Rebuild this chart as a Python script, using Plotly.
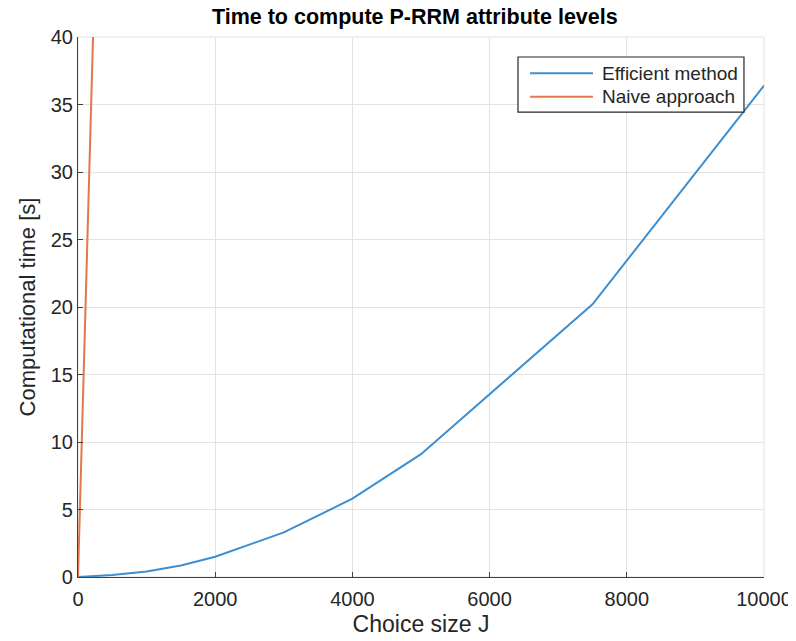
import plotly.graph_objects as go

eff_x = [0, 500, 1000, 1500, 2000, 3000, 4000, 5000, 7500, 10000]
eff_y = [0, 0.15, 0.4, 0.85, 1.5, 3.3, 5.8, 9.1, 20.2, 36.4]
naive_x = [0, 100, 250]
naive_y = [0, 18.2, 45.6]

series_names = ["Efficient method", "Naive approach"]
series_colors = ["#3d8fd1", "#e3784a"]

x_ticks = [0, 2000, 4000, 6000, 8000, 10000]
y_ticks = [0, 5, 10, 15, 20, 25, 30, 35, 40]

fig = go.Figure()
fig.add_trace(go.Scatter(x=eff_x, y=eff_y, mode="lines", name=series_names[0],
                         line=dict(color=series_colors[0], width=2)))
fig.add_trace(go.Scatter(x=naive_x, y=naive_y, mode="lines", name=series_names[1],
                         line=dict(color=series_colors[1], width=2)))

fig.update_layout(
    width=796, height=641,
    margin=dict(l=70, r=40, t=29, b=72),
    paper_bgcolor="white", plot_bgcolor="white",
    font=dict(family="Liberation Sans, Arial, sans-serif", color="#262626", size=20),
    title=dict(text="<b>Time to compute P-RRM attribute levels</b>", x=0.491, xanchor="center",
               xref="paper", y=0.998, yref="container", yanchor="top",
               pad=dict(t=0, b=0), font=dict(size=21.5, color="#000")),
    showlegend=False,
)
fig.update_xaxes(range=[0, 10000], tickvals=x_ticks, ticktext=[str(v) for v in x_ticks],
                 showgrid=True, gridcolor="#e3e3e3", gridwidth=1,
                 showline=True, linecolor="#404040", linewidth=1.2,
                 ticks="inside", ticklen=5, tickcolor="#404040",
                 zeroline=False, mirror=False, ticklabelstandoff=4,
                 title=dict(text="Choice size J", font=dict(size=23), standoff=6),
                 tickfont=dict(size=20))
fig.update_yaxes(range=[0, 40], tickvals=y_ticks, ticktext=[str(v) for v in y_ticks],
                 showgrid=True, gridcolor="#e3e3e3", gridwidth=1,
                 showline=True, linecolor="#404040", linewidth=1.2,
                 ticks="inside", ticklen=5, tickcolor="#404040",
                 zeroline=False, mirror=False,
                 title=dict(text="Computational time [s]", font=dict(size=22), standoff=8),
                 tickfont=dict(size=20))
fig.add_shape(type="rect", xref="paper", yref="paper", x0=0, y0=0, x1=1, y1=1,
              line=dict(color="#e3e3e3", width=1), layer="below")

# manual legend box to match the reference's proportions
fig.add_shape(type="rect", xref="paper", yref="paper", x0=0.6414, x1=0.9708,
              y0=0.861, y1=0.963, line=dict(color="#262626", width=1.2),
              fillcolor="white", layer="above")
row_y = [0.9328, 0.8894]
for name, color, yy in zip(series_names, series_colors, row_y):
    fig.add_shape(type="line", xref="paper", yref="paper", x0=0.659, x1=0.7507,
                  y0=yy, y1=yy, line=dict(color=color, width=2), layer="above")
    fig.add_annotation(xref="paper", yref="paper", x=0.761, y=yy, text=name,
                       showarrow=False, xanchor="left", yanchor="middle",
                       font=dict(size=19, color="#262626"))
fig.write_html("out.html")
